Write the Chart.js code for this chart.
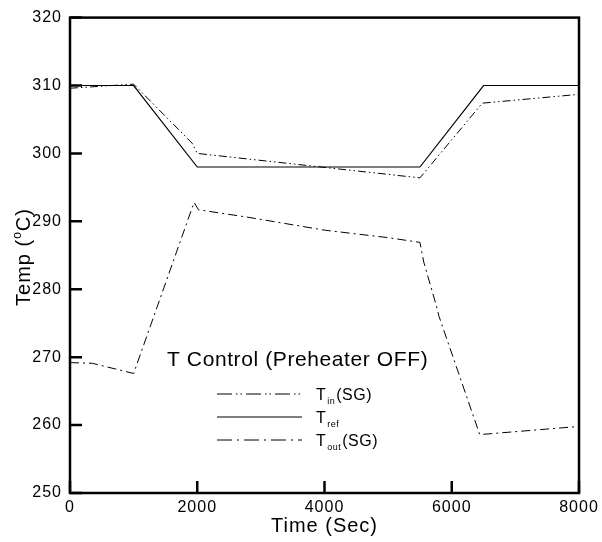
<!DOCTYPE html>
<html>
<head>
<meta charset="utf-8">
<script src="https://cdn.jsdelivr.net/npm/chart.js@4"></script>
<style>
  html, body { margin: 0; padding: 0; background: #fff; }
  #wrap { width: 602px; height: 542px; }
</style>
</head>
<body>
<div id="wrap"><canvas id="chart" width="602" height="542"></canvas></div>
<script>
    // values
    var refTime  = [0, 1000, 2000, 5500, 6500, 8000];
    var refTemp  = [310, 310, 298, 298, 310, 310];

    var inTime   = [0, 1000, 1920, 2000, 5500, 6480, 8000];
    var inTemp   = [309.6, 310.2, 301.5, 300, 296.4, 307.4, 308.7];

    var outTime  = [0, 350, 1000, 1950, 2020, 2800, 4000, 5000, 5500, 5560, 5760, 5800, 6440, 8000];
    var outTemp  = [269.2, 269.1, 267.6, 292.8, 291.7, 290.6, 288.7, 287.6, 286.9, 284, 277.5, 276, 258.6, 259.8];

    var xTicks = [0, 2000, 4000, 6000, 8000];
    var yTicks = [250, 260, 270, 280, 290, 300, 310, 320];

    var FONT = "'Liberation Sans', Arial, Helvetica, sans-serif";

    function pts(xs, ys) {
        return xs.map(function (x, i) { return { x: x, y: ys[i] }; });
    }

    var dashIn  = [8, 3, 1.5, 3, 1.5, 3];
    var dashOut = [9, 4, 2, 4];

    // the reference font is a bit wider than Arial
    var spacing = {
        id: 'spacing',
        beforeDraw: function (chart) { chart.ctx.letterSpacing = '1px'; }
    };

    // box, inward ticks, titles and the legend
    var decor = {
        id: 'decor',
        afterDatasetsDraw: function (chart) {
            var ctx = chart.ctx, a = chart.chartArea;
            var xs = chart.scales.x, ys = chart.scales.y;
            ctx.save();
            ctx.strokeStyle = '#000';
            ctx.lineWidth = 2.5;
            ctx.strokeRect(a.left, a.top, a.right - a.left, a.bottom - a.top);
            ctx.beginPath();
            yTicks.forEach(function (v) {
                var y = ys.getPixelForValue(v);
                ctx.moveTo(a.left, y); ctx.lineTo(a.left + 12, y);
            });
            xTicks.forEach(function (v) {
                var x = xs.getPixelForValue(v);
                ctx.moveTo(x, a.bottom); ctx.lineTo(x, a.bottom - 12);
            });
            ctx.stroke();

            ctx.fillStyle = '#000';
            ctx.letterSpacing = '1px';
            // x title
            ctx.font = '20px ' + FONT;
            ctx.textAlign = 'center';
            ctx.textBaseline = 'alphabetic';
            ctx.fillText('Time (Sec)', (a.left + a.right) / 2, 532);

            // y title with superscript o
            ctx.save();
            ctx.translate(30, 257);
            ctx.rotate(-Math.PI / 2);
            ctx.textAlign = 'left';
            var p1 = 'Temp (', p3 = 'C)';
            ctx.font = '20px ' + FONT;
            var w1 = ctx.measureText(p1).width;
            ctx.font = '12px ' + FONT;
            var w2 = ctx.measureText('o').width;
            ctx.font = '20px ' + FONT;
            var w3 = ctx.measureText(p3).width;
            var sx = -(w1 + w2 + w3) / 2;
            ctx.fillText(p1, sx, 0);
            ctx.font = '12px ' + FONT;
            ctx.fillText('o', sx + w1, -9);
            ctx.font = '20px ' + FONT;
            ctx.fillText(p3, sx + w1 + w2, 0);
            ctx.restore();

            // inner title
            ctx.font = '21px ' + FONT;
            ctx.letterSpacing = '0.6px';
            ctx.textAlign = 'left';
            ctx.fillText('T Control (Preheater OFF)', 167, 366);

            // legend
            ctx.letterSpacing = '0.5px';
            var rows = [
                { dash: [15, 4, 1.5, 3, 1.5, 4], sub: 'in',  tail: '(SG)', y: 394 },
                { dash: [],                      sub: 'ref', tail: '',     y: 417 },
                { dash: [15, 5, 2, 5],           sub: 'out', tail: '(SG)', y: 440 }
            ];
            rows.forEach(function (r) {
                ctx.beginPath();
                ctx.lineWidth = 1;
                ctx.setLineDash(r.dash);
                ctx.moveTo(217, r.y); ctx.lineTo(302, r.y);
                ctx.stroke();
                ctx.setLineDash([]);
                ctx.font = '16px ' + FONT;
                ctx.fillText('T', 316, r.y + 6);
                var wT = ctx.measureText('T').width;
                ctx.font = '9px ' + FONT;
                ctx.fillText(r.sub, 316 + wT + 1, r.y + 10);
                var ws = ctx.measureText(r.sub).width;
                ctx.font = '16px ' + FONT;
                ctx.fillText(r.tail, 316 + wT + ws + 2, r.y + 6);
            });
            ctx.restore();
        }
    };

    new Chart(document.getElementById('chart'), {
        type: 'line',
        data: {
            datasets: [{
                label: 'Tin(SG)',
                data: pts(inTime, inTemp),
                borderColor: '#000',
                borderWidth: 1,
                borderDash: dashIn,
                pointRadius: 0,
                tension: 0
            }, {
                label: 'Tref',
                data: pts(refTime, refTemp),
                borderColor: '#000',
                borderWidth: 1.2,
                pointRadius: 0,
                tension: 0
            }, {
                label: 'Tout(SG)',
                data: pts(outTime, outTemp),
                borderColor: '#000',
                borderWidth: 1,
                borderDash: dashOut,
                pointRadius: 0,
                tension: 0
            }]
        },
        options: {
            responsive: false,
            animation: false,
            layout: { padding: { top: 15, right: 23, left: 0, bottom: 0 } },
            plugins: {
                legend: { display: false },
                tooltip: { enabled: false }
            },
            scales: {
                x: {
                    type: 'linear',
                    min: 0,
                    max: 8000,
                    afterFit: function (s) { s.height = 49; },
                    afterBuildTicks: function (s) { s.ticks = xTicks.map(function (v) { return { value: v }; }); },
                    grid: { display: false, drawTicks: false },
                    border: { display: false },
                    ticks: {
                        color: '#000', padding: 5, maxRotation: 0,
                        font: { family: FONT, size: 16 },
                        callback: function (v) { return String(v); }
                    }
                },
                y: {
                    min: 250,
                    max: 320,
                    afterFit: function (s) { s.width = 70; },
                    afterBuildTicks: function (s) { s.ticks = yTicks.map(function (v) { return { value: v }; }); },
                    grid: { display: false, drawTicks: false },
                    border: { display: false },
                    ticks: {
                        color: '#000', padding: 8,
                        font: { family: FONT, size: 16 },
                        callback: function (v) { return String(v); }
                    }
                }
            }
        },
        plugins: [spacing, decor]
    });
</script>
</body>
</html>
